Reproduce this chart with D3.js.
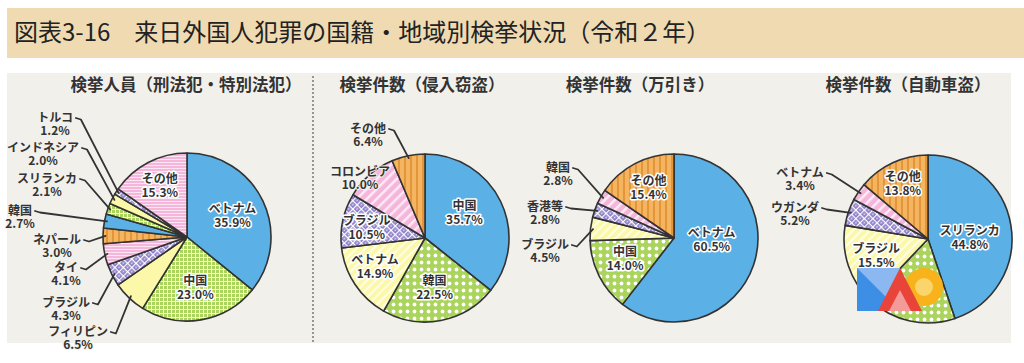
<!DOCTYPE html>
<html lang="ja">
<head>
<meta charset="utf-8">
<script src="https://cdn.jsdelivr.net/npm/d3@7"></script>
<style>
  body { margin: 0; background: #fff; }
  svg text { font-family: "Noto Sans CJK JP", "Noto Sans", sans-serif; }
</style>
</head>
<body>
<svg id="chart"></svg>
<script>
// ---- data ----
const figTitle = "図表3-16　来日外国人犯罪の国籍・地域別検挙状況（令和２年）";
const chartTitles = ["検挙人員（刑法犯・特別法犯）", "検挙件数（侵入窃盗）", "検挙件数（万引き）", "検挙件数（自動車盗）"];

const personsCountries = ["ベトナム", "中国", "フィリピン", "ブラジル", "タイ", "ネパール", "韓国", "スリランカ", "インドネシア", "トルコ", "その他"];
const personsValues = [35.9, 23.0, 6.5, 4.3, 4.1, 3.0, 2.7, 2.1, 2.0, 1.2, 15.3];

const burglaryCountries = ["中国", "韓国", "ベトナム", "ブラジル", "コロンビア", "その他"];
const burglaryValues = [35.7, 22.5, 14.9, 10.5, 10.0, 6.4];

const shopliftCountries = ["ベトナム", "中国", "ブラジル", "香港等", "韓国", "その他"];
const shopliftValues = [60.5, 14.0, 4.5, 2.8, 2.8, 15.4];

// second slice label is hidden under the watermark in the source image
const carTheftCountries = ["スリランカ", "", "ブラジル", "ウガンダ", "ベトナム", "その他"];
const carTheftValues = [44.8, 17.3, 15.5, 5.2, 3.4, 13.8];

// ---- fills (pattern keys) ----
const personsFills = ["blue", "greenGrid", "yellow", "purpleCheck", "pinkHoriz", "orangeVert", "blue", "greenGrid", "yellow", "purpleCheck", "pinkHoriz"];
const burglaryFills = ["blue", "greenDots", "yellowDiag", "purpleCheck", "pinkDiag", "orangeVert"];
const shopliftFills = ["blue", "greenDots", "yellowDiag", "purpleCheck", "pinkDiag", "orangeVert"];
const carTheftFills = ["blue", "greenDots", "yellowDiag", "purpleCheck", "pinkDiag", "orangeVert"];

// ---- label layout: null = inside at centroid, nudge = inside shifted, out = outside label (+ leader) ----
const personsLabels = [null, null, {out: [-109, 95], line: true}, {out: [-121, 66], line: true}, {out: [-121, 31], line: true},
  {out: [-130, 3], line: true}, {out: [-167, -26], line: true}, {out: [-140, -58], line: true}, {out: [-144, -89], line: true},
  {out: [-132, -119], line: true}, {nudge: [-4, -7]}];
const burglaryLabels = [{nudge: [-6, -4]}, null, {nudge: [-8, 0]}, {nudge: [-9, 0]}, {out: [-65, -66], line: false}, {out: [-57, -109], line: true}];
const shopliftLabels = [{nudge: [-10, -15]}, {nudge: [-4, -3]}, {out: [-129, 7], line: true}, {out: [-129, -31], line: true}, {out: [-116, -70], line: true}, {nudge: [-2, -6]}];
const carTheftLabels = [{nudge: [-8, 6]}, {skip: true}, {nudge: [-4, 0]}, {out: [-133, -31], line: true}, {out: [-128, -66], line: true}, {nudge: [-4, -10]}];

const charts = [
  {title: chartTitles[0], names: personsCountries, values: personsValues, fills: personsFills, labels: personsLabels, cx: 187, cy: 237, titleX: 186},
  {title: chartTitles[1], names: burglaryCountries, values: burglaryValues, fills: burglaryFills, labels: burglaryLabels, cx: 425, cy: 238, titleX: 422},
  {title: chartTitles[2], names: shopliftCountries, values: shopliftValues, fills: shopliftFills, labels: shopliftLabels, cx: 674, cy: 238, titleX: 640},
  {title: chartTitles[3], names: carTheftCountries, values: carTheftValues, fills: carTheftFills, labels: carTheftLabels, cx: 928, cy: 239, titleX: 908}
];

const width = 1024, height = 363;
const radius = 84;
const ink = "#333";

const svg = d3.select("#chart").attr("width", width).attr("height", height);

// ---- patterns ----
const defs = svg.append("defs");
const colors = {blue: "#5bb0e6", green: "#aad45c", yellow: "#fcf8aa", purple: "#8c7dc8", pink: "#f4b6da", orange: "#f5b45f"};

function pat(id, size, bg, transform) {
  const p = defs.append("pattern").attr("id", id).attr("patternUnits", "userSpaceOnUse")
    .attr("width", size).attr("height", size);
  if (transform) p.attr("patternTransform", transform);
  p.append("rect").attr("width", size).attr("height", size).attr("fill", bg);
  return p;
}
pat("blue", 10, colors.blue);
pat("yellow", 10, colors.yellow);
let p = pat("greenGrid", 4, colors.green);
p.append("path").attr("d", "M0,0.5H4M0.5,0V4").attr("stroke", "#fff").attr("stroke-width", 1).attr("opacity", 0.85);
p = pat("greenDots", 7, colors.green);
p.append("circle").attr("cx", 3.5).attr("cy", 3.5).attr("r", 1.9).attr("fill", "#fff");
p = pat("yellowDiag", 6, colors.yellow, "rotate(45)");
p.append("rect").attr("width", 2).attr("height", 6).attr("fill", "#fffde6");
p = pat("purpleCheck", 6, colors.purple, "rotate(45)");
p.append("path").attr("d", "M0,0.5H6M0.5,0V6").attr("stroke", "#fff").attr("stroke-width", 1.3);
p.append("circle").attr("cx", 3.5).attr("cy", 3.5).attr("r", 0.9).attr("fill", "#e8e2f6");
p = pat("pinkHoriz", 3, colors.pink);
p.append("rect").attr("width", 3).attr("height", 1).attr("fill", "#fde6f2");
p = pat("pinkDiag", 7, colors.pink, "rotate(45)");
p.append("rect").attr("width", 2.5).attr("height", 7).attr("fill", "#fdeaf5");
p = pat("orangeVert", 6, colors.orange);
p.append("rect").attr("x", 3).attr("width", 2).attr("height", 6).attr("fill", "#e3953a");

// ---- header & panel ----
svg.append("rect").attr("x", 7).attr("y", 8).attr("width", width - 7).attr("height", 50).attr("fill", "#efdab2");
svg.append("text").attr("x", 14).attr("y", 41).attr("font-size", 24).attr("fill", "#222").text(figTitle);

svg.append("rect").attr("x", 7).attr("y", 73).attr("width", 1004).attr("height", 270).attr("fill", "#f2f0eb");
svg.append("line").attr("x1", 313).attr("x2", 313).attr("y1", 76).attr("y2", 342)
  .attr("stroke", "#777").attr("stroke-width", 1.5).attr("stroke-dasharray", "2,2");

// ---- pies ----
const pie = d3.pie().sort(null).value(d => d.value);
const arc = d3.arc().innerRadius(0).outerRadius(radius);
const labelArc = d3.arc().innerRadius(radius * 0.6).outerRadius(radius * 0.6);
const edgeArc = d3.arc().innerRadius(radius * 0.97).outerRadius(radius * 0.97);

function labelLine(g, x, y, str, halo) {
  return g.append("text").attr("x", x).attr("y", y).attr("text-anchor", "middle")
    .attr("font-size", 12).attr("font-weight", 700).attr("fill", ink)
    .attr("stroke", halo).attr("stroke-width", halo === "#fff" ? 3 : 2)
    .attr("paint-order", "stroke").attr("stroke-linejoin", "round").text(str);
}

charts.forEach(c => {
  const rows = c.names.map((n, i) => ({name: n, value: c.values[i], fill: c.fills[i], label: c.labels[i]}));
  const arcs = pie(rows);

  svg.append("text").attr("x", c.titleX).attr("y", 91).attr("text-anchor", "middle")
    .attr("font-size", 16.5).attr("font-weight", 700).attr("fill", ink).text(c.title);

  const g = svg.append("g").attr("transform", `translate(${c.cx},${c.cy})`);

  g.selectAll("path.slice").data(arcs).join("path").attr("class", "slice")
    .attr("d", arc).attr("fill", d => `url(#${d.data.fill})`)
    .attr("stroke", ink).attr("stroke-width", 1.6).attr("stroke-linejoin", "round");

  arcs.forEach(d => {
    const lab = d.data.label;
    if (lab && lab.skip) return;
    const valText = d3.format(".1f")(d.data.value) + "%";
    if (!lab || lab.nudge) {
      const [x, y] = labelArc.centroid(d);
      const [nx, ny] = lab ? lab.nudge : [0, 0];
      labelLine(g, x + nx, y + ny - 2, d.data.name, "#fff");
      labelLine(g, x + nx, y + ny + 12, valText, "#fff");
    } else {
      const [ox, oy] = lab.out;
      const nameText = labelLine(g, ox, oy + 4, d.data.name, "#f2f0eb");
      labelLine(g, ox, oy + 17, valText, "#f2f0eb");
      if (lab.line) {
        const w = nameText.node().getComputedTextLength();
        const sx = ox + w / 2 + 3, sy = oy;
        const [ex, ey] = edgeArc.centroid(d);
        g.append("path").attr("d", `M${sx},${sy}L${sx + 5},${sy + 1.5}L${ex},${ey}`)
          .attr("fill", "none").attr("stroke", ink).attr("stroke-width", 1.8)
          .attr("stroke-linejoin", "round").attr("stroke-linecap", "round");
      }
    }
  });
});

// ---- watermark logo sitting over the last pie ----
const logo = svg.append("g");
logo.append("rect").attr("x", 857).attr("y", 268).attr("width", 43).attr("height", 43).attr("fill", "#3d8fe6");
logo.append("path").attr("d", "M857,268H900V311Z").attr("fill", "#8cb8f2");
logo.append("circle").attr("cx", 924).attr("cy", 287).attr("r", 14).attr("fill", "#fbd56b")
  .attr("stroke", "#f8b21c").attr("stroke-width", 10);
logo.append("path").attr("d", "M900,268L922,311H878Z").attr("fill", "#e8443a");
logo.append("path").attr("d", "M900,290L911,311H889Z").attr("fill", "#f29b98");
</script>
</body>
</html>
